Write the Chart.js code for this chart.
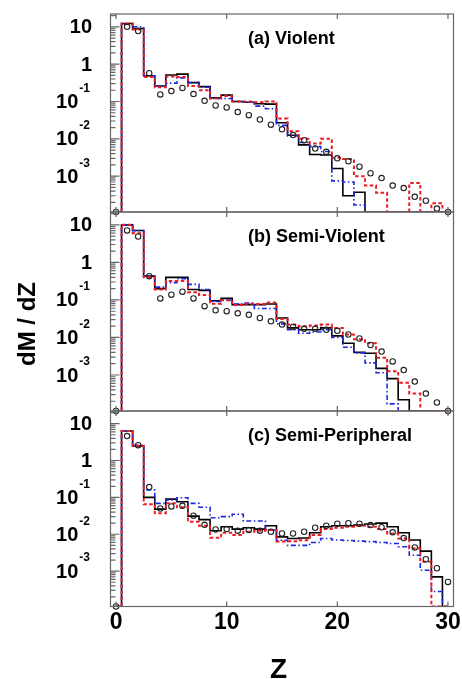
<!DOCTYPE html>
<html lang="en">
<head>
  <meta charset="UTF-8" />
  <title>dM / dZ</title>
  <script src="https://cdn.jsdelivr.net/npm/chart.js"></script>
  <style>
    body { margin: 0; background: #fff; }
    .wrap { position: relative; width: 462px; height: 679px; background: #fff; }
    .wrap canvas { position: absolute; left: 0; top: 0; }
  </style>
</head>
<body>
<div class="wrap">
  <canvas id="panelA" width="462" height="679"></canvas>
  <canvas id="panelB" width="462" height="679"></canvas>
  <canvas id="panelC" width="462" height="679"></canvas>
</div>

<script>
  // Z bins (histogram bins are centred on the integers, width 1)
  const zBins = [0, 1, 2, 3, 4, 5, 6, 7, 8, 9, 10, 11, 12, 13, 14, 15,
                 16, 17, 18, 19, 20, 21, 22, 23, 24, 25, 26, 27, 28, 29, 30];

  // (a) Violent
  const violentBlack = [0, 12.2, 9, 0.49, 0.26, 0.51, 0.54, 0.32, 0.25, 0.126, 0.148, 0.1, 0.095, 0.087, 0.085, 0.027,
                        0.0125, 0.0069, 0.0038, 0.0037, 0.0016, 0.0003, 0.00037, 0, 0, 0, 0, 0, 0, 0, 0];
  const violentRed   = [0, 12.2, 8.5, 0.45, 0.24, 0.47, 0.45, 0.26, 0.2, 0.12, 0.14, 0.1, 0.1, 0.095, 0.1, 0.035,
                        0.016, 0.01, 0.0075, 0.01, 0.0031, 0.0029, 0.001, 0.00056, 0.00036, 0, 0, 0.00066, 0, 0.00019, 0];
  const violentBlue  = [0, 11.8, 10, 0.49, 0.26, 0.31, 0.43, 0.32, 0.24, 0.12, 0.12, 0.1, 0.095, 0.075, 0.064, 0.023,
                        0.012, 0.008, 0.0062, 0.0046, 0.00075, 0.0007, 0.00017, 0, 0, 0, 0, 0, 0, 0, 0];
  const violentData  = [0, 10, 7.7, 0.57, 0.155, 0.19, 0.23, 0.158, 0.104, 0.078, 0.069, 0.052, 0.043, 0.033, 0.024, 0.018,
                        0.0126, 0.0092, 0.0055, 0.0045, 0.003, 0.0025, 0.0018, 0.0012, 0.00089, 0.00056, 0.00048, 0.00028, 0.00022, 0.000136, 0];

  // (b) Semi-Violent
  const semiViolentBlack = [0, 10, 7.1, 0.43, 0.2, 0.4, 0.4, 0.19, 0.18, 0.095, 0.11, 0.075, 0.075, 0.075, 0.078, 0.033,
                            0.018, 0.016, 0.016, 0.018, 0.011, 0.007, 0.004, 0.0038, 0.0015, 0.0008, 0.00022, 0, 0, 0, 0];
  const semiViolentRed   = [0, 10, 6, 0.4, 0.19, 0.32, 0.32, 0.16, 0.135, 0.079, 0.098, 0.073, 0.079, 0.078, 0.085, 0.031,
                            0.022, 0.02, 0.021, 0.022, 0.018, 0.012, 0.009, 0.007, 0.0029, 0.00126, 0.00062, 0.00032, 0, 0, 0];
  const semiViolentBlue  = [0, 10, 7, 0.43, 0.22, 0.29, 0.37, 0.26, 0.19, 0.091, 0.098, 0.078, 0.083, 0.059, 0.059, 0.023,
                            0.016, 0.013, 0.014, 0.016, 0.01, 0.0055, 0.0039, 0.0021, 0.00115, 0.00017, 0, 0, 0, 0, 0];
  const semiViolentData  = [0, 7.1, 4.9, 0.43, 0.11, 0.138, 0.166, 0.11, 0.068, 0.053, 0.05, 0.044, 0.04, 0.033, 0.027, 0.022,
                            0.019, 0.017, 0.017, 0.016, 0.015, 0.012, 0.0094, 0.0063, 0.0042, 0.0023, 0.00135, 0.00067, 0.00032, 0.000185, 0];

  // (c) Semi-Peripheral
  const semiPeriphBlack = [0, 6.3, 2.5, 0.1, 0.048, 0.09, 0.076, 0.031, 0.025, 0.0125, 0.016, 0.0138, 0.015, 0.0138, 0.017, 0.0085,
                           0.0077, 0.0079, 0.011, 0.016, 0.017, 0.017, 0.0178, 0.019, 0.02, 0.016, 0.011, 0.007, 0.0035, 0.0007, 0];
  const semiPeriphRed   = [0, 6.3, 2.5, 0.065, 0.037, 0.069, 0.054, 0.022, 0.017, 0.008, 0.011, 0.0095, 0.0117, 0.0125, 0.013, 0.0064,
                           0.0065, 0.0069, 0.0095, 0.0138, 0.015, 0.016, 0.017, 0.016, 0.0138, 0.0105, 0.0077, 0.0042, 0.0018, 0, 0];
  const semiPeriphBlue  = [0, 6.3, 2.6, 0.16, 0.069, 0.085, 0.098, 0.069, 0.054, 0.028, 0.03, 0.035, 0.023, 0.023, 0.013, 0.0069,
                           0.005, 0.005, 0.006, 0.0077, 0.007, 0.0068, 0.0065, 0.0063, 0.006, 0.0056, 0.0046, 0.0027, 0.00106, 0.00028, 0];
  const semiPeriphData  = [0, 4.6, 2.6, 0.19, 0.05, 0.057, 0.059, 0.032, 0.018, 0.0135, 0.0138, 0.0125, 0.013, 0.0125, 0.0117, 0.0105,
                           0.0105, 0.0117, 0.015, 0.017, 0.0194, 0.02, 0.0194, 0.0178, 0.0155, 0.0113, 0.0079, 0.0044, 0.0021, 0.0012, 0.00051];

  // axes
  const xTickValues = [0, 10, 20, 30];
  const xTickLabels = ['0', '10', '20', '30'];
  const yTickValues = [10, 1, 0.1, 0.01, 0.001];
  const yTickLabels = [['10', ''], ['1', ''], ['10', '-1'], ['10', '-2'], ['10', '-3']];
  const X_MIN = -0.5, X_MAX = 30.5;
  const Y_MIN = 1.1e-4, Y_MAX = 22;

  const FONT = '"Liberation Sans", Arial, Helvetica, sans-serif';
  const RED = 'rgb(236, 28, 36)';
  const BLUE = 'rgb(30, 40, 225)';

  // empty bins are drawn on the axis floor
  const points = vals => vals.map((v, i) => ({ x: zBins[i], y: v > 0 ? v : Y_MIN }));

  // frame, inward ticks and texts (ROOT style)
  const framePlugin = {
    id: 'frame',
    afterDatasetsDraw(chart) {
      const { ctx, chartArea: a, scales: { x, y } } = chart;
      const o = chart.options.plugins.frame;
      ctx.save();
      ctx.strokeStyle = '#666';
      ctx.lineWidth = 1.2;
      ctx.strokeRect(a.left, a.top, a.right - a.left, a.bottom - a.top);

      ctx.beginPath();
      xTickValues.forEach(v => {
        const px = x.getPixelForValue(v);
        ctx.moveTo(px, a.bottom); ctx.lineTo(px, a.bottom - 5);
        ctx.moveTo(px, a.top); ctx.lineTo(px, a.top + 5);
      });
      for (let e = -4; e <= 1; e++) {
        for (let m = 1; m <= 9; m++) {
          const v = m * Math.pow(10, e);
          if (v < Y_MIN || v > Y_MAX) continue;
          const py = y.getPixelForValue(v);
          ctx.moveTo(a.left, py);
          ctx.lineTo(a.left + (m === 1 ? 9 : 5), py);
        }
      }
      ctx.stroke();

      // y tick labels
      ctx.fillStyle = '#000';
      ctx.textBaseline = 'middle';
      ctx.textAlign = 'right';
      yTickValues.forEach((v, i) => {
        const py = y.getPixelForValue(v);
        const [base, exp] = yTickLabels[i];
        let right = 92;
        if (exp) {
          ctx.font = 'bold 12px ' + FONT;
          const w = ctx.measureText(exp).width;
          ctx.fillText(exp, 90, py - 13);
          right = 90 - w - 1;
        }
        ctx.font = 'bold 20px ' + FONT;
        ctx.fillText(base, right, py + 1);
      });

      // panel title
      ctx.textAlign = 'left';
      ctx.textBaseline = 'alphabetic';
      ctx.font = 'bold 18px ' + FONT;
      ctx.fillText(o.title, 248, a.top + 30);

      if (o.yTitle) {
        ctx.save();
        ctx.translate(35, 324);
        ctx.rotate(-Math.PI / 2);
        ctx.textAlign = 'center';
        ctx.font = 'bold 24px ' + FONT;
        ctx.fillText('dM / dZ', 0, 0);
        ctx.restore();
      }

      if (o.xLabels) {
        ctx.textAlign = 'center';
        ctx.font = 'bold 23px ' + FONT;
        xTickValues.forEach((v, i) => {
          ctx.fillText(xTickLabels[i], x.getPixelForValue(v), a.bottom + 22);
        });
        ctx.font = 'bold 28px ' + FONT;
        ctx.fillText('Z', 278.5, 677.5);
      }
      ctx.restore();
    }
  };

  function makePanel(id, top, bottom, title, black, red, blue, data, extra) {
    return new Chart(document.getElementById(id), {
      type: 'line',
      data: {
        datasets: [
          {
            data: points(data), showLine: false,
            pointStyle: 'circle', pointRadius: 2.7, pointBorderWidth: 1.1,
            pointBorderColor: '#222', pointBackgroundColor: 'rgba(0,0,0,0)',
            clip: false
          },
          {
            data: points(red), stepped: 'middle', borderColor: RED,
            borderWidth: 2, borderDash: [3.5, 2.5], pointRadius: 0
          },
          {
            data: points(blue), stepped: 'middle', borderColor: BLUE,
            borderWidth: 1.6, borderDash: [5, 2.5, 1.5, 2.5], pointRadius: 0
          },
          {
            data: points(black), stepped: 'middle', borderColor: '#000',
            borderWidth: 1.6, pointRadius: 0
          }
        ]
      },
      options: {
        responsive: false,
        animation: false,
        events: [],
        layout: { padding: { left: 110.5, right: 462 - 453.5, top: top, bottom: 679 - bottom } },
        scales: {
          x: { type: 'linear', min: X_MIN, max: X_MAX, display: false },
          y: { type: 'logarithmic', min: Y_MIN, max: Y_MAX, display: false }
        },
        plugins: {
          legend: { display: false },
          tooltip: { enabled: false },
          frame: Object.assign({ title: title }, extra)
        }
      },
      plugins: [framePlugin]
    });
  }

  makePanel('panelA', 14, 212, '(a) Violent', violentBlack, violentRed, violentBlue, violentData, {});
  makePanel('panelB', 212, 411, '(b) Semi-Violent', semiViolentBlack, semiViolentRed, semiViolentBlue, semiViolentData, { yTitle: true });
  makePanel('panelC', 411, 606.5, '(c) Semi-Peripheral', semiPeriphBlack, semiPeriphRed, semiPeriphBlue, semiPeriphData, { xLabels: true });
</script>
</body>
</html>
